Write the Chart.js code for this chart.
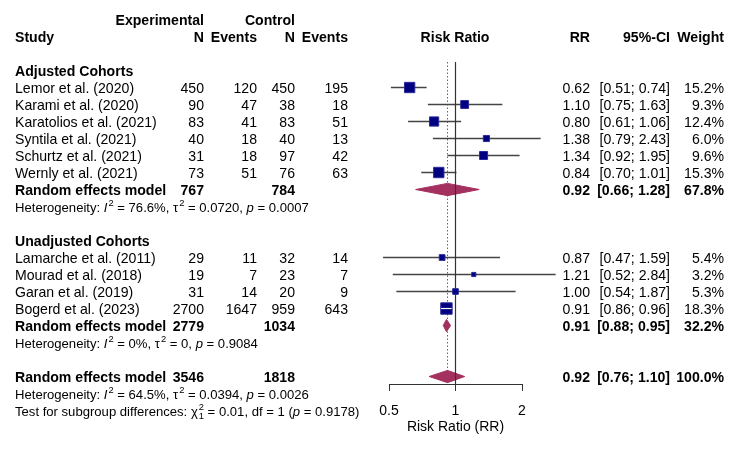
<!DOCTYPE html>
<html>
<head>
<meta charset="utf-8">
<script src="https://cdn.jsdelivr.net/npm/chart.js@4.4.1/dist/chart.umd.min.js"></script>
<style>
  html, body { margin: 0; padding: 0; background: #fff; }
  canvas { display: block; }
</style>
</head>
<body>
<canvas id="forest" width="750" height="449"></canvas>
<script>
// adjusted cohorts
const adjNames = ["Lemor et al. (2020)", "Karami et al. (2020)", "Karatolios et al. (2021)",
  "Syntila et al. (2021)", "Schurtz et al. (2021)", "Wernly et al. (2021)"];
const adjExpN = [450, 90, 83, 40, 31, 73];
const adjExpEv = [120, 47, 41, 18, 18, 51];
const adjCtrlN = [450, 38, 83, 40, 97, 76];
const adjCtrlEv = [195, 18, 51, 13, 42, 63];
const adjRR = [0.62, 1.10, 0.80, 1.38, 1.34, 0.84];
const adjLo = [0.51, 0.75, 0.61, 0.79, 0.92, 0.70];
const adjHi = [0.74, 1.63, 1.06, 2.43, 1.95, 1.01];
const adjWeight = [15.2, 9.3, 12.4, 6.0, 9.6, 15.3];

// unadjusted cohorts
const unadjNames = ["Lamarche et al. (2011)", "Mourad et al. (2018)", "Garan et al. (2019)", "Bogerd et al. (2023)"];
const unadjExpN = [29, 19, 31, 2700];
const unadjExpEv = [11, 7, 14, 1647];
const unadjCtrlN = [32, 23, 20, 959];
const unadjCtrlEv = [14, 7, 9, 643];
const unadjRR = [0.87, 1.21, 1.00, 0.91];
const unadjLo = [0.47, 0.52, 0.54, 0.86];
const unadjHi = [1.59, 2.84, 1.87, 0.96];
const unadjWeight = [5.4, 3.2, 5.3, 18.3];

// random effects summaries: adjusted, unadjusted, overall
const groupTitles = ["Adjusted Cohorts", "Unadjusted Cohorts"];
const sumExpN = [767, 2779, 3546];
const sumCtrlN = [784, 1034, 1818];
const sumRR = [0.92, 0.91, 0.92];
const sumLo = [0.66, 0.88, 0.76];
const sumHi = [1.28, 0.95, 1.10];
const sumWeight = [67.8, 32.2, 100.0];
const hetI2 = [76.6, 0, 64.5];
const hetTau2 = [0.0720, 0, 0.0394];
const hetP = ["0.0007", "0.9084", "0.0026"];
const subgroupChi2 = 0.01, subgroupDf = 1, subgroupP = "0.9178";

const xTicks = [0.5, 1, 2];

const FONT = '"Liberation Sans", Arial, sans-serif';
const NAVY = '#000080';
const DIAMOND = '#A3305F';
const LINE = '#444444';

// row layout
const groups = [
  {base: 0, names: adjNames, expN: adjExpN, expEv: adjExpEv, ctrlN: adjCtrlN, ctrlEv: adjCtrlEv, rr: adjRR, lo: adjLo, hi: adjHi, w: adjWeight},
  {base: 10, names: unadjNames, expN: unadjExpN, expEv: unadjExpEv, ctrlN: unadjCtrlN, ctrlEv: unadjCtrlEv, rr: unadjRR, lo: unadjLo, hi: unadjHi, w: unadjWeight}
];
const overallRow = 18;

const studies = [];
groups.forEach((g) => {
  g.names.forEach((n, i) => {
    studies.push({row: g.base + 1 + i, name: n, expN: g.expN[i], expEv: g.expEv[i], ctrlN: g.ctrlN[i],
      ctrlEv: g.ctrlEv[i], rr: g.rr[i], lo: g.lo[i], hi: g.hi[i], w: g.w[i]});
  });
});
const summaryRows = [groups[0].base + 1 + adjNames.length, groups[1].base + 1 + unadjNames.length, overallRow];

const boxSide = (w) => 2.9 * Math.sqrt(w);
const diamondHalf = 0.36;

const datasets = [];
// squares on top
datasets.push({
  label: 'studies', order: 0, showLine: false, clip: false,
  data: studies.map(s => ({x: s.rr, y: s.row})),
  pointStyle: 'rect',
  pointRadius: studies.map(s => (boxSide(s.w) - 1) / Math.SQRT2),
  pointHoverRadius: studies.map(s => (boxSide(s.w) - 1) / Math.SQRT2),
  backgroundColor: NAVY, borderColor: '#2a2a9a', borderWidth: 1
});
// reference line at 1
datasets.push({
  label: 'ref', order: 2, clip: false, pointRadius: 0, borderColor: '#333', borderWidth: 1.2,
  data: [{x: 1, y: -0.5}, {x: 1, y: 18.44}]
});
// diamonds
sumRR.forEach((rr, i) => {
  const r = summaryRows[i];
  datasets.push({
    label: 'diamond' + i, order: 3, clip: false, pointRadius: 0, fill: 'shape',
    backgroundColor: DIAMOND, borderColor: DIAMOND, borderWidth: 1,
    data: [{x: sumLo[i], y: r}, {x: rr, y: r - diamondHalf}, {x: sumHi[i], y: r}, {x: rr, y: r + diamondHalf}, {x: sumLo[i], y: r}]
  });
});
// whiskers
studies.forEach((s, i) => {
  datasets.push({
    label: 'ci' + i, order: 4, clip: false, pointRadius: 0, borderColor: LINE, borderWidth: 1.3,
    data: [{x: s.lo, y: s.row}, {x: s.hi, y: s.row}]
  });
});
// dotted random effects line
datasets.push({
  label: 're', order: 5, clip: false, pointRadius: 0, borderColor: '#666', borderWidth: 1, borderDash: [1.5, 2],
  data: [{x: sumRR[2], y: -0.5}, {x: sumRR[2], y: overallRow}]
});

function rich(ctx, segs, x, y, size) {
  ctx.textAlign = 'left';
  for (const s of segs) {
    if (s.sup !== undefined || s.sub !== undefined) {
      ctx.font = `${(size * 0.72).toFixed(1)}px ${FONT}`;
      let w = 0;
      if (s.sup !== undefined) { ctx.fillText(s.sup, x + 1, y - size * 0.36); w = ctx.measureText(s.sup).width; }
      if (s.sub !== undefined) { ctx.fillText(s.sub, x + 1, y + size * 0.32); w = Math.max(w, ctx.measureText(s.sub).width); }
      x += w + 1;
    } else {
      ctx.font = `${s.it ? 'italic ' : ''}${size}px ${FONT}`;
      ctx.fillText(s.t, x, y);
      x += ctx.measureText(s.t).width;
    }
  }
}

const hetSegs = (i) => {
  const i2 = hetI2[i] === 0 ? '0%' : hetI2[i].toFixed(1) + '%';
  const t2 = hetTau2[i] === 0 ? '0' : hetTau2[i].toFixed(4);
  return [{t: 'Heterogeneity: '}, {t: 'I', it: true}, {sup: '2'}, {t: ' = ' + i2 + ', \u03c4'}, {sup: '2'},
    {t: ' = ' + t2 + ', '}, {t: 'p', it: true}, {t: ' = ' + hetP[i]}];
};

const col = {study: 15, expN: 204, expEv: 257, ctrlN: 295, ctrlEv: 348, plot: 455, rr: 590, ci: 670, w: 724};
const fmtCI = (lo, hi) => `[${lo.toFixed(2)}; ${hi.toFixed(2)}]`;

const tablePlugin = {
  id: 'table',
  afterDraw(chart) {
    const ctx = chart.ctx;
    // text middle sits a touch above the glyph centre, nudge down
    const Y = (r) => chart.scales.y.getPixelForValue(r) + 1.5;
    const put = (s, x, r, align, bold, size) => {
      ctx.font = `${bold ? 'bold ' : ''}${size || 14.1}px ${FONT}`;
      ctx.textAlign = align;
      ctx.fillText(String(s), x, Y(r));
    };
    ctx.save();
    ctx.fillStyle = '#000';
    ctx.textBaseline = 'middle';

    put('Experimental', col.expN, -3, 'right', true);
    put('Control', col.ctrlN, -3, 'right', true);
    put('Study', col.study, -2, 'left', true);
    put('N', col.expN, -2, 'right', true);
    put('Events', col.expEv, -2, 'right', true);
    put('N', col.ctrlN, -2, 'right', true);
    put('Events', col.ctrlEv, -2, 'right', true);
    put('Risk Ratio', col.plot, -2, 'center', true);
    put('RR', col.rr, -2, 'right', true);
    put('95%-CI', col.ci, -2, 'right', true);
    put('Weight', col.w, -2, 'right', true);

    groups.forEach((g, gi) => put(groupTitles[gi], col.study, g.base, 'left', true));
    studies.forEach((s) => {
      put(s.name, col.study, s.row, 'left');
      put(s.expN, col.expN, s.row, 'right');
      put(s.expEv, col.expEv, s.row, 'right');
      put(s.ctrlN, col.ctrlN, s.row, 'right');
      put(s.ctrlEv, col.ctrlEv, s.row, 'right');
      put(s.rr.toFixed(2), col.rr, s.row, 'right');
      put(fmtCI(s.lo, s.hi), col.ci, s.row, 'right');
      put(s.w.toFixed(1) + '%', col.w, s.row, 'right');
    });
    summaryRows.forEach((r, i) => {
      put('Random effects model', col.study, r, 'left', true);
      put(sumExpN[i], col.expN, r, 'right', true);
      put(sumCtrlN[i], col.ctrlN, r, 'right', true);
      put(sumRR[i].toFixed(2), col.rr, r, 'right', true);
      put(fmtCI(sumLo[i], sumHi[i]), col.ci, r, 'right', true);
      put(sumWeight[i].toFixed(1) + '%', col.w, r, 'right', true);
      rich(ctx, hetSegs(i), col.study, Y(r + 1), 13.1);
    });
    rich(ctx, [{t: 'Test for subgroup differences: \u03c7'}, {sup: '2', sub: String(subgroupDf)},
      {t: ' = ' + subgroupChi2.toFixed(2) + ', df = ' + subgroupDf + ' ('}, {t: 'p', it: true},
      {t: ' = ' + subgroupP + ')'}], col.study, Y(overallRow + 2), 13.1);
    ctx.restore();
  }
};

const chart = new Chart(document.getElementById('forest'), {
  type: 'line',
  data: {datasets: datasets},
  plugins: [tablePlugin],
  options: {
    responsive: false,
    animation: false,
    events: [],
    layout: {autoPadding: false, padding: {left: 389, right: 228, top: 0, bottom: 0}},
    plugins: {legend: {display: false}, tooltip: {enabled: false}},
    scales: {
      x: {
        type: 'logarithmic', min: 0.5, max: 2,
        afterBuildTicks: (s) => { s.ticks = xTicks.map(v => ({value: v})); },
        afterFit: (s) => { s.height = 65; },
        grid: {drawOnChartArea: false, drawTicks: true, tickLength: 7, color: '#333'},
        border: {display: true, color: '#333', width: 1},
        ticks: {callback: (v) => String(v), color: '#000', padding: 12, maxRotation: 0, font: {family: FONT, size: 14}},
        title: {display: true, text: 'Risk Ratio (RR)', color: '#000', padding: {top: 0, bottom: 13}, font: {family: FONT, size: 14}}
      },
      y: {type: 'linear', reverse: true, min: -4.147, max: 18.44, display: false}
    }
  }
});

// white CI line drawn inside boxes that are wider than their interval
const xs = chart.scales.x;
studies.forEach((s) => {
  if (xs.getPixelForValue(s.hi) - xs.getPixelForValue(s.lo) < boxSide(s.w)) {
    chart.data.datasets.push({
      label: 'inner', order: -1, clip: false, pointRadius: 0, borderColor: '#fff', borderWidth: 1.2,
      data: [{x: s.lo, y: s.row}, {x: s.hi, y: s.row}]
    });
  }
});
chart.update();
</script>
</body>
</html>
